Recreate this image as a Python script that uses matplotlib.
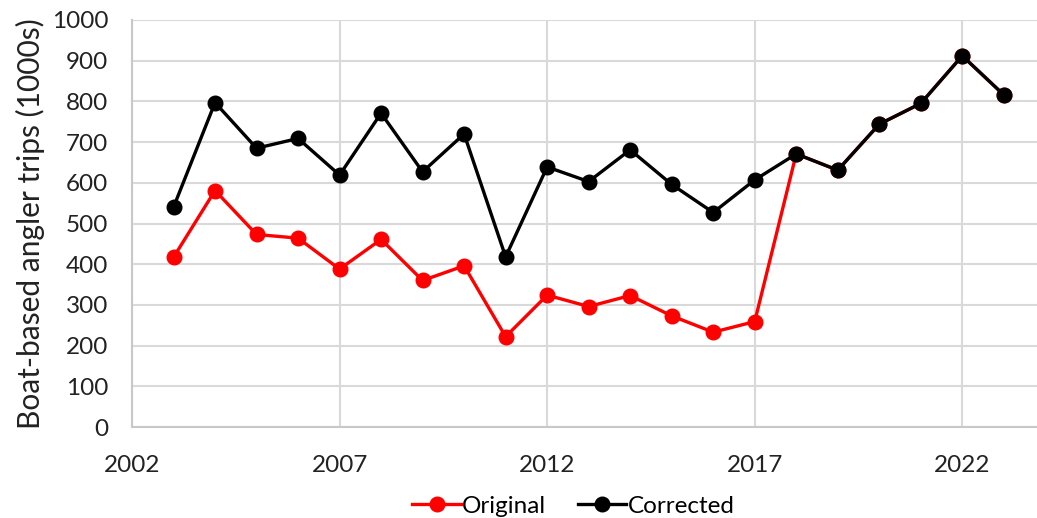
import numpy as np
import matplotlib
matplotlib.use("Agg")
import matplotlib.pyplot as plt

plt.rcParams['font.family'] = ['Lato', 'DejaVu Sans']

years = list(range(2003, 2024))
original = [417, 581, 473, 464, 388, 461, 360, 396, 222, 324, 296, 323, 273, 233, 259,
            671, 631, 744, 795, 912, 816]
corrected = [540, 797, 685, 709, 619, 771, 627, 720, 418, 639, 603, 681, 596, 527, 607,
             671, 631, 744, 795, 912, 816]

fig = plt.figure(figsize=(10.37, 5.18), dpi=100)
ax = fig.add_axes([132 / 1037, 1 - 427 / 518, 1 - 132 / 1037, 407 / 518])

ax.plot(years, original, color='#ff0000', lw=2.4, marker='o', ms=10.5, label='Original', zorder=3)
ax.plot(years, corrected, color='black', lw=2.4, marker='o', ms=10.5, label='Corrected', zorder=4)

ax.set_xlim(2002, 2023.8)
ax.set_ylim(0, 1000)
ax.set_xticks([2002, 2007, 2012, 2017, 2022])
ax.set_yticks(range(0, 1001, 100))
ax.grid(True, color='#d9d9d9', lw=1.5)
ax.set_axisbelow(True)
for s in ['top', 'right']:
    ax.spines[s].set_visible(False)
for s in ['left', 'bottom']:
    ax.spines[s].set_color('#c8c8c8')
    ax.spines[s].set_linewidth(1.5)
ax.tick_params(length=0, labelsize=17.5, colors='#222222')
ax.tick_params(axis='y', pad=17)
ax.tick_params(axis='x', pad=20)
ax.set_ylabel('Boat-based angler trips (1000s)', fontsize=21.5, color='#222222', labelpad=5)

fig.legend(loc='lower center', bbox_to_anchor=(0.553, -0.04), ncol=2, frameon=False,
           fontsize=17.5, handlelength=2.0, handletextpad=0.05, columnspacing=1.3)

fig.savefig('out.png', dpi=100)
